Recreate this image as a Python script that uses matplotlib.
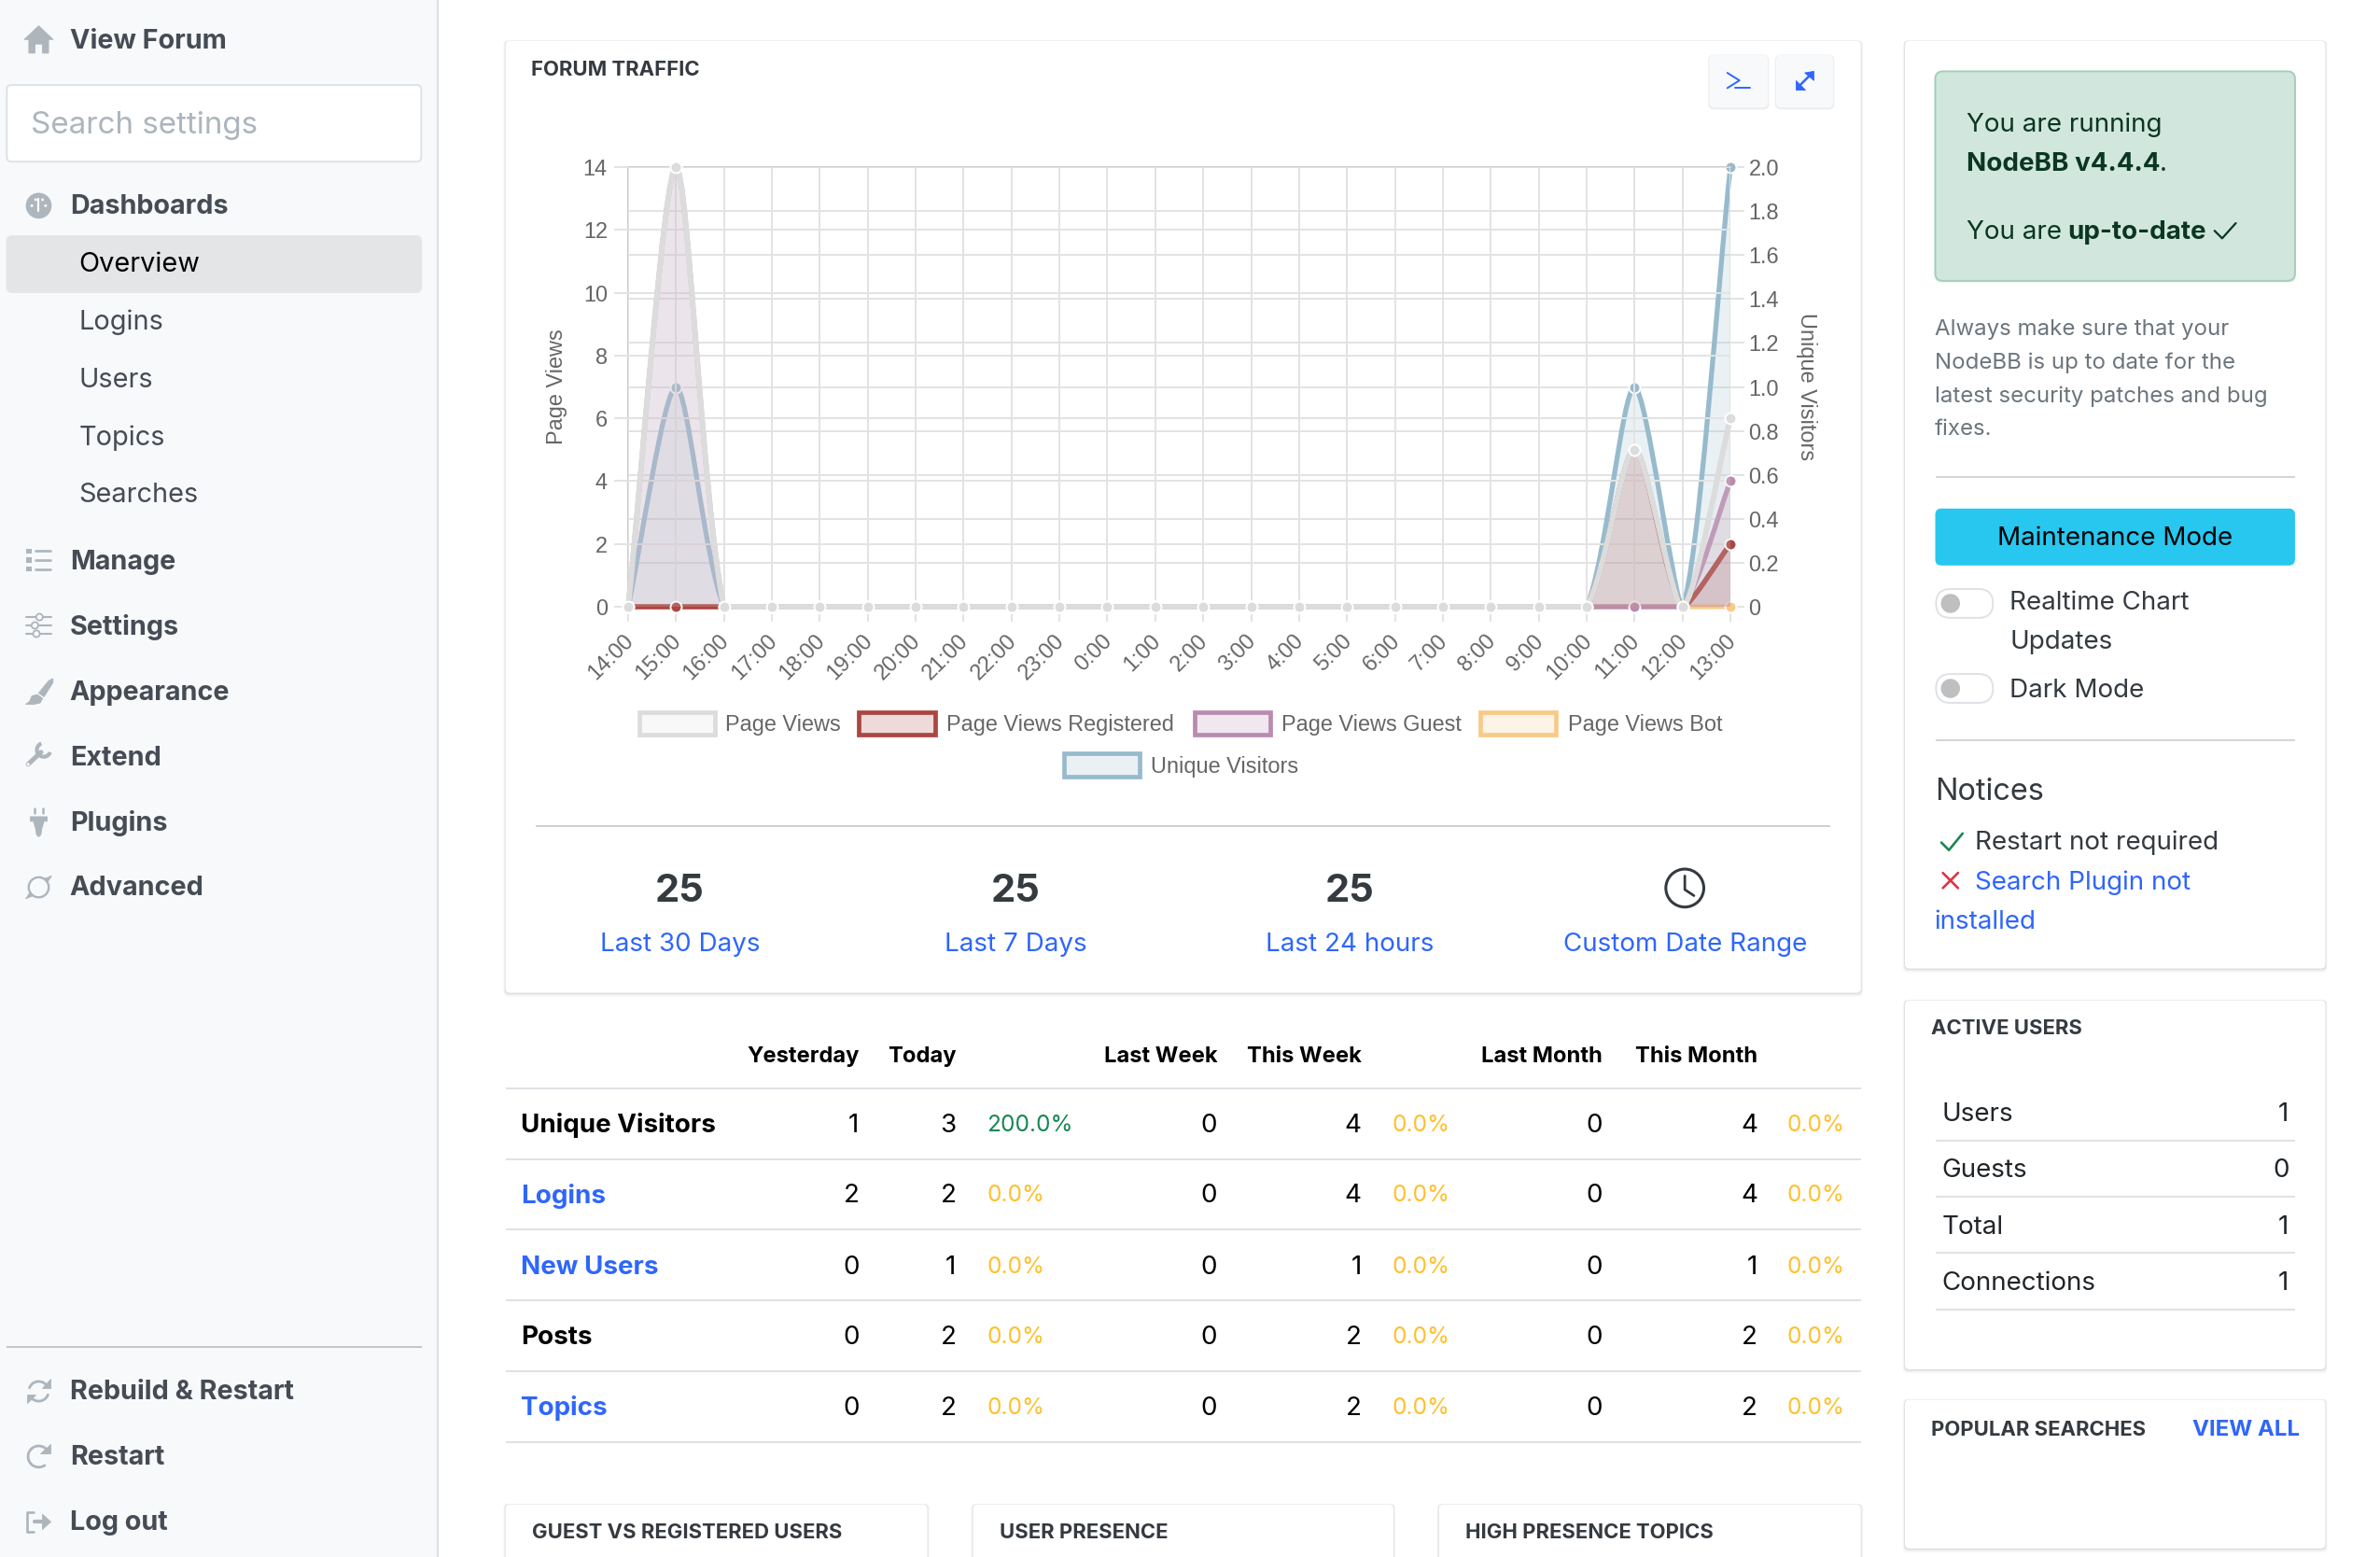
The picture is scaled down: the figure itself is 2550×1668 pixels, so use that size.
"""
Forum admin dashboard with the traffic chart, rebuilt in matplotlib.
Layout coordinates below are in reference units (2550 px / 1568).
"""

import matplotlib

matplotlib.use("Agg")
import matplotlib.pyplot as plt
from matplotlib.patches import Arc, Circle, FancyBboxPatch, PathPatch, Polygon, Rectangle
from matplotlib.path import Path
from matplotlib.transforms import ScaledTranslation

W, H = 2550, 1668
S = W / 1568.0

hours = ["14:00", "15:00", "16:00", "17:00", "18:00", "19:00", "20:00", "21:00", "22:00", "23:00", "0:00", "1:00",
         "2:00", "3:00", "4:00", "5:00", "6:00", "7:00", "8:00", "9:00", "10:00", "11:00", "12:00", "13:00"]
page_views = [0, 14, 0, 0, 0, 0, 0, 0, 0, 0, 0, 0, 0, 0, 0, 0, 0, 0, 0, 0, 0, 5, 0, 6]
page_views_registered = [0, 0, 0, 0, 0, 0, 0, 0, 0, 0, 0, 0, 0, 0, 0, 0, 0, 0, 0, 0, 0, 5, 0, 2]
page_views_guest = [0, 14, 0, 0, 0, 0, 0, 0, 0, 0, 0, 0, 0, 0, 0, 0, 0, 0, 0, 0, 0, 0, 0, 4]
page_views_bot = [0, 0, 0, 0, 0, 0, 0, 0, 0, 0, 0, 0, 0, 0, 0, 0, 0, 0, 0, 0, 0, 0, 0, 0]
unique_visitors = [0, 1, 0, 0, 0, 0, 0, 0, 0, 0, 0, 0, 0, 0, 0, 0, 0, 0, 0, 0, 0, 1, 0, 2]

left_ticks = [0, 2, 4, 6, 8, 10, 12, 14]
right_ticks = [0, 0.2, 0.4, 0.6, 0.8, 1.0, 1.2, 1.4, 1.6, 1.8, 2.0]
right_labels = ["0", "0.2", "0.4", "0.6", "0.8", "1.0", "1.2", "1.4", "1.6", "1.8", "2.0"]

GRAY, RED, PINK, BOT, BLUE = "#dcdcdc", "#ab4642", "#ba8baf", "#f7ca88", "#97bbcd"

table_names = ["Unique Visitors", "Logins", "New Users", "Posts", "Topics"]
table_links = [False, True, True, False, True]
yesterday = [1, 2, 0, 0, 0]
today = [3, 2, 1, 2, 2]
day_pct = ["200.0%", "0.0%", "0.0%", "0.0%", "0.0%"]
last_week = [0, 0, 0, 0, 0]
this_week = [4, 4, 1, 2, 2]
last_month = [0, 0, 0, 0, 0]
this_month = [4, 4, 1, 2, 2]

stat_values = ["25", "25", "25"]
stat_labels = ["Last 30 Days", "Last 7 Days", "Last 24 hours", "Custom Date Range"]

active_names = ["Users", "Guests", "Total", "Connections"]
active_counts = [1, 0, 1, 1]

LINK = "#2f66fb"
INK = "#212529"
SIDE_TXT = "#454c55"
SIDE_ICON = "#adb5bd"
SANS = "Inter"
SIDE = "Inter"
CHART = "Liberation Sans"
BODY = 20
HEAD = 15.9

fig = plt.figure(figsize=(W / 100, H / 100), dpi=100, facecolor="white")
ui = fig.add_axes([0, 0, 1, 1], zorder=1)
ui.set_xlim(0, W / S)
ui.set_ylim(H / S, 0)
ui.axis("off")


def txt(x, y, s, size=BODY, color=INK, weight="normal", ha="left", family=SANS, **kw):
    return ui.text(x, y - 0.5, s, fontsize=size, color=color, weight=weight, ha=ha, va="center_baseline", family=family, **kw)


def rbox(x0, y0, x1, y1, r=3, fc="white", ec="none", lw=0, z=1):
    p = FancyBboxPatch((x0 + r, y0 + r), x1 - x0 - 2 * r, y1 - y0 - 2 * r, boxstyle=f"round,pad={r},rounding_size={r}",
                       fc=fc, ec=ec, lw=lw, zorder=z)
    ui.add_patch(p)
    return p


def hline(x0, x1, y, color="#cfd1d4", lw=1.3, z=2):
    ui.plot([x0, x1], [y, y], color=color, lw=lw, solid_capstyle="butt", zorder=z)


def card(x0, y0, x1, y1):
    # soft shadow, then the white card
    for off, alpha in ((5, 0.012), (4, 0.018), (3, 0.025), (2, 0.035), (1, 0.05)):
        rbox(x0 - off * 0.3, y0 - off * 0.1, x1 + off * 0.3, y1 + off * 0.6, r=3, fc=(0, 0, 0, alpha), z=1)
    rbox(x0, y0, x1, y1, r=3, fc="white", z=1.1)


def stroke(xs, ys, color=SIDE_ICON, lw=2.2, z=3):
    ui.plot(xs, ys, color=color, lw=lw, solid_capstyle="round", solid_joinstyle="round", zorder=z)


def fill(pts, color=SIDE_ICON, z=3):
    ui.add_patch(Polygon(pts, fc=color, ec=color, lw=0.6, joinstyle="round", zorder=z))


# ---- sidebar
ui.add_patch(Rectangle((0, 0), 288, H / S, fc="#f8f9fa", ec="none", zorder=0.5))
ui.plot([288.5, 288.5], [0, H / S], color="#dee2e6", lw=1.6, zorder=0.6)

rbox(4.5, 56, 277.5, 106.5, r=3, fc="white", ec="#dee2e6", lw=1.4)
txt(20, 81, "Search settings", size=23.9, color="#adb5bd", family=SIDE)
rbox(4, 155, 278, 193, r=4, fc="#e4e5e7")

side_top = [("View Forum", 26), ("Dashboards", 135), ("Manage", 369), ("Settings", 412), ("Appearance", 455),
            ("Extend", 498), ("Plugins", 541), ("Advanced", 584), ("Rebuild & Restart", 916), ("Restart", 959),
            ("Log out", 1002)]
for name, y in side_top:
    txt(46, y, name, size=20.7, color=SIDE_TXT, weight="bold", family=SIDE)
side_sub = [("Overview", 173, "black"), ("Logins", 211, SIDE_TXT), ("Users", 249, SIDE_TXT), ("Topics", 287, SIDE_TXT),
            ("Searches", 325, SIDE_TXT)]
for name, y, col in side_sub:
    txt(52, y, name, size=20.8, color=col, family=SIDE)

# sidebar icons
fill([(16, 26), (25.5, 17), (35, 26), (32, 26), (32, 35), (28, 35), (28, 29), (23, 29), (23, 35), (19, 35), (19, 26)])
ui.add_patch(Circle((25.5, 135.5), 8.5, fc=SIDE_ICON, zorder=3))
for dx, dy in ((-4.5, 0), (4.5, 0), (-2, -4), (2.5, -4)):
    ui.add_patch(Circle((25.5 + dx, 135.5 + dy), 0.9, fc="white", zorder=4))
stroke([25.5, 25.5], [131, 139], color="white", lw=1.6, z=4)
for dy in (-6, 0, 6):
    ui.add_patch(Rectangle((17.5, 369 + dy - 1.6), 3.2, 3.2, fc=SIDE_ICON, zorder=3))
    stroke([23.5, 33.5], [369 + dy, 369 + dy], lw=1.9)
for dy, cx in ((-5.5, 28), (0, 25), (5.5, 26)):
    stroke([17.5, 34], [412 + dy, 412 + dy], lw=1.5)
    ui.add_patch(Circle((cx - 2, 412 + dy), 2.2, fc="#f8f9fa", ec=SIDE_ICON, lw=1.3, zorder=4))
# brush
fill([(34.8, 447), (35, 449.5), (29, 459), (25.5, 456.5), (32, 448.5)])
fill([(24.5, 457.5), (28, 460), (26.5, 463), (22, 464), (17, 464), (19.5, 462), (21, 458.5)])
# wrench
stroke([18.5, 27], [503.5, 495.5], lw=3.6)
ui.add_patch(Arc((28.8, 494), 9, 9, theta1=20, theta2=250, ec=SIDE_ICON, lw=3, zorder=3))
ui.add_patch(Circle((18.5, 503.5), 1, fc="#f8f9fa", zorder=4))
# plug
fill([(20, 538), (31, 538), (31, 541), (29, 541), (27.5, 546), (27, 549.5), (26, 551), (25, 551), (24, 549.5), (23.5, 546),
      (22, 541), (20, 541)])
stroke([23, 23], [532.5, 535.5], lw=1.8)
stroke([28, 28], [532.5, 535.5], lw=1.8)
# advanced
ui.add_patch(Circle((25.5, 584.5), 6.6, fc="none", ec=SIDE_ICON, lw=1.7, zorder=3))
fill([(29, 579), (34, 577), (31, 581.5)])
fill([(22, 590), (17, 592), (20, 587.5)])
# rebuild
ui.add_patch(Arc((25.5, 916.5), 13, 13, theta1=195, theta2=330, ec=SIDE_ICON, lw=2, zorder=3))
ui.add_patch(Arc((25.5, 916.5), 13, 13, theta1=15, theta2=150, ec=SIDE_ICON, lw=2, zorder=3))
fill([(33, 908.5), (33, 914.5), (27.5, 914.5)])
fill([(18, 924.5), (18, 918.5), (23.5, 918.5)])
# restart
ui.add_patch(Arc((25.5, 959.5), 14, 14, theta1=50, theta2=325, ec=SIDE_ICON, lw=2, zorder=3))
fill([(33, 951), (33, 957.5), (26.5, 957.5)])
# log out
stroke([22, 18, 18, 22], [996, 996, 1009, 1009], lw=1.9)
stroke([23, 28], [1002.5, 1002.5], lw=3)
fill([(28, 997.5), (33.5, 1002.5), (28, 1007.5)])

hline(4, 278, 887, color="#bfc2c6")

# ---- forum traffic card
card(333, 27, 1226, 654)
txt(350, 45.5, "FORUM TRAFFIC", size=HEAD, weight="bold", color="#343a40")
for x0, x1 in ((1126, 1165), (1170, 1208)):
    for off, alpha in ((1.5, 0.03), (0.8, 0.05)):
        rbox(x0 - off / 2, 36, x1 + off / 2, 71 + off, r=4, fc=(0, 0, 0, alpha), z=1.2)
    rbox(x0, 36, x1, 71, r=4, fc="#f8f9fa", z=1.3)
stroke([1138, 1146, 1138], [48, 53, 58], color=LINK, lw=1.4)
stroke([1143, 1153], [58, 58], color=LINK, lw=1.4)
stroke([1185, 1193], [57, 49], color=LINK, lw=1.8)
fill([(1189, 48), (1195, 47), (1195, 53)], color=LINK)
fill([(1183, 53), (1183, 59), (1189, 59)], color=LINK)

# legend boxes of the chart
legend_rows = [(421, 476.5, "Page Views", GRAY, 478), (566, 476.5, "Page Views Registered", RED, 623.5),
               (787, 476.5, "Page Views Guest", PINK, 844), (975, 476.5, "Page Views Bot", BOT, 1033),
               (701, 504, "Unique Visitors", BLUE, 758)]
for x0, yc, name, col, tx in legend_rows:
    ui.add_patch(Rectangle((x0, yc - 7.5), 50, 15, fc=matplotlib.colors.to_rgba(col, 0.2), ec=col, lw=3.4, zorder=3))
    txt(tx, yc, name, size=16.9, color="#666666", family=CHART)

# chart
PLOT_L, PLOT_R = 673, 1854
rect = [PLOT_L / W, 1 - 650 / H, (PLOT_R - PLOT_L) / W, (650 - 179) / H]
ax = fig.add_axes(rect, zorder=3)
ax.patch.set_visible(False)
ax2 = ax.twinx()
ax2.set_zorder(2)
ax.set_zorder(3)
ax.set_xlim(0, len(hours) - 1)
ax.set_ylim(0, 14)
ax2.set_ylim(0, 2)
ax2.patch.set_visible(False)

GRID = "#e3e3e3"
LABEL = 16.9
ax.set_xticks(range(len(hours)))
ax.set_xticklabels(hours, rotation=45, ha="right", rotation_mode="anchor", fontsize=LABEL, color="#666666", family=CHART)
ax.set_yticks(left_ticks)
ax.set_yticklabels([str(v) for v in left_ticks], fontsize=LABEL, color="#666666", family=CHART)
ax2.set_yticks(right_ticks)
ax2.set_yticklabels(right_labels, fontsize=LABEL, color="#666666", family=CHART)
ax.tick_params(axis="x", length=11.5, width=1.4, color=GRID, pad=5)
ax.tick_params(axis="y", length=11, width=1.4, color=GRID, pad=5)
ax2.tick_params(axis="y", length=11, width=1.4, color=GRID, pad=3)
# tick_params resets label transforms, so nudge after it
shift = ScaledTranslation(-6.5 / 100, -2 / 100, fig.dpi_scale_trans)
for lab in ax.get_xticklabels():
    lab.set_transform(lab.get_transform() + shift)
ax.grid(True, color=GRID, lw=1.4)
ax2.grid(True, axis="y", color=GRID, lw=1.4)
ax.set_axisbelow(False)
ax2.set_axisbelow(True)
for name, sp in ax.spines.items():
    sp.set_visible(name in ("top", "left"))
    sp.set_color("#cccccc")
    sp.set_linewidth(1.4)
for sp in ax2.spines.values():
    sp.set_visible(False)
ax.set_ylabel("Page Views", fontsize=LABEL, color="#666666", family=CHART)
ax2.set_ylabel("Unique Visitors", fontsize=LABEL, color="#666666", family=CHART, rotation=270, va="bottom")
ax.yaxis.set_label_coords((374 * S - PLOT_L) / (PLOT_R - PLOT_L), 0.5)
ax2.yaxis.set_label_coords((1183 * S - PLOT_L) / (PLOT_R - PLOT_L), 0.5)


def spline_path(a, vals, ymax, tension=0.25):
    # same bezier construction as the browser chart, control points from pixel distances
    n = len(vals)
    pts = [(float(i), float(v)) for i, v in enumerate(vals)]
    disp = a.transData.transform(pts)
    prev_cp, next_cp = [], []
    for i in range(n):
        cur = pts[i]
        p = pts[max(i - 1, 0)]
        q = pts[min(i + 1, n - 1)]
        d1 = ((disp[i] - disp[max(i - 1, 0)]) ** 2).sum() ** 0.5
        d2 = ((disp[min(i + 1, n - 1)] - disp[i]) ** 2).sum() ** 0.5
        s1 = d1 / (d1 + d2)
        s2 = d2 / (d1 + d2)
        dx, dy = q[0] - p[0], q[1] - p[1]
        prev_cp.append((cur[0] - tension * s1 * dx, min(max(cur[1] - tension * s1 * dy, 0), ymax)))
        next_cp.append((cur[0] + tension * s2 * dx, min(max(cur[1] + tension * s2 * dy, 0), ymax)))
    verts = [pts[0]]
    codes = [Path.MOVETO]
    for i in range(1, n):
        verts += [next_cp[i - 1], prev_cp[i], pts[i]]
        codes += [Path.CURVE4] * 3
    return verts, codes


def draw_series(a, vals, col, ymax, z, lw):
    verts, codes = spline_path(a, vals, ymax)
    area = verts + [(len(vals) - 1, 0), (0, 0), verts[0]]
    area_codes = codes + [Path.LINETO, Path.LINETO, Path.CLOSEPOLY]
    a.add_patch(PathPatch(Path(area, area_codes), fc=matplotlib.colors.to_rgba(col, 0.2), ec="none", zorder=z))
    a.add_patch(PathPatch(Path(verts, codes), fc="none", ec=col, lw=lw, capstyle="butt", joinstyle="round", zorder=z + 0.1,
                          clip_on=False))
    a.plot(range(len(vals)), vals, "o", ms=8.6, mfc=col, mec="white", mew=1.4, clip_on=False, zorder=z + 0.2)


fig.canvas.draw()
# upper lines a touch wider, otherwise the lower ones show through their soft edges
draw_series(ax2, unique_visitors, BLUE, 2, 3, 3.8)
draw_series(ax, page_views_bot, BOT, 14, 3, 3.6)
draw_series(ax, page_views_guest, PINK, 14, 4, 3.8)
draw_series(ax, page_views_registered, RED, 14, 5, 4.0)
draw_series(ax, page_views, GRAY, 14, 6, 4.3)

# totals under the chart
hline(353, 1206, 544, color="#c9cbce")
for x, v in zip((448, 669, 889), stat_values):
    txt(x, 585, v, size=30, weight="bold", ha="center", color="#343a40")
for x, name in zip((448, 669, 889, 1110), stat_labels):
    txt(x, 621, name, color=LINK, ha="center")
ui.add_patch(Circle((1110, 585), 12.5, fc="none", ec="#343a40", lw=2.2, zorder=3))
stroke([1110, 1110, 1116], [577, 586, 590], color="#343a40", lw=2)

# ---- stats table
for x, name in ((566, "Yesterday"), (630, "Today"), (802, "Last Week"), (897, "This Week"), (1056, "Last Month"),
                (1158, "This Month")):
    txt(x, 695, name, size=17.1, weight="bold", color="black", ha="right")
row_y = [740, 786.5, 833.5, 880, 926.5]
for y in [717, 763.5, 810, 856.5, 903.5, 950]:
    hline(333, 1226, y, color="#dee2e6", lw=1.4)
for i, name in enumerate(table_names):
    y = row_y[i]
    txt(343, y, name, weight="bold", color=LINK if table_links[i] else "black")
    txt(566, y, str(yesterday[i]), ha="right", color="black")
    txt(630, y, str(today[i]), ha="right", color="black")
    txt(650, y, day_pct[i], size=17.6, color="#198754" if i == 0 else "#ffc02e")
    txt(802, y, str(last_week[i]), ha="right", color="black")
    txt(897, y, str(this_week[i]), ha="right", color="black")
    txt(917, y, "0.0%", size=17.6, color="#ffc02e")
    txt(1056, y, str(last_month[i]), ha="right", color="black")
    txt(1158, y, str(this_month[i]), ha="right", color="black")
    txt(1177, y, "0.0%", size=17.6, color="#ffc02e")

# ---- bottom cards
for x0, x1, name in ((333, 611, "GUEST VS REGISTERED USERS"), (641, 918, "USER PRESENCE"), (948, 1226, "HIGH PRESENCE TOPICS")):
    card(x0, 991, x1, 1040)
    txt(x0 + 17.5, 1009, name, size=HEAD, weight="bold", color="#343a40")

# ---- right column
card(1255, 27, 1532, 638)
for off, alpha in ((1.5, 0.04), (0.8, 0.06)):
    rbox(1275 - off / 2, 47, 1512 + off / 2, 185 + off, r=5, fc=(0, 0, 0, alpha), z=1.2)
rbox(1275, 47, 1512, 185, r=5, fc="#d1e7dd", ec="#a3cfbb", lw=1.4, z=1.3)
GREEN_TXT = "#0a3622"
txt(1295.5, 81, "You are running", color=GREEN_TXT)
txt(1295.5, 107, "NodeBB v4.4.4", weight="bold", color=GREEN_TXT)
txt(1423, 107, ".", color=GREEN_TXT)
txt(1295.5, 152, "You are", color=GREEN_TXT)
txt(1362, 152, "up-to-date", weight="bold", color=GREEN_TXT)
stroke([1459, 1464, 1473], [152, 157, 147], color=GREEN_TXT, lw=1.6)

para = ["Always make sure that your", "NodeBB is up to date for the", "latest security patches and bug", "fixes."]
for y, line in zip((216, 238, 260, 282), para):
    txt(1274.5, y, line, size=17.3, color="#6c757d")
hline(1275, 1512, 314)
rbox(1275, 335, 1512, 372.5, r=4, fc="#27c7ef", z=2)
txt(1393.5, 353.5, "Maintenance Mode", ha="center", color="black")
for yc in (397.5, 453.5):
    rbox(1275.5, yc - 9.5, 1313, yc + 9.5, r=9.5, fc="white", ec="#dee2e6", lw=1.4, z=2)
    ui.add_patch(Circle((1285, yc), 6.3, fc="#bfbfbf", zorder=3))
txt(1324, 396, "Realtime Chart", color="#343a40")
txt(1324, 422, "Updates", color="#343a40")
txt(1324, 453.5, "Dark Mode", color="#343a40")
hline(1275, 1512, 487.5)
txt(1274.5, 520, "Notices", size=23.4, color="#343a40")
stroke([1279, 1284, 1293], [555, 560, 549], color="#198754", lw=1.9)
txt(1301, 554, "Restart not required", color="#343a40")
stroke([1280, 1290], [575, 585], color="#dc3545", lw=1.9)
stroke([1280, 1290], [585, 575], color="#dc3545", lw=1.9)
txt(1301, 580, "Search Plugin not", color=LINK)
txt(1274.5, 606, "installed", color=LINK)

card(1255, 659, 1532, 902)
txt(1272, 677, "ACTIVE USERS", size=HEAD, weight="bold", color="#343a40")
for i, name in enumerate(active_names):
    y = 733 + i * 37
    txt(1279.5, y, name, color=INK)
    txt(1508, y, str(active_counts[i]), color=INK, ha="right")
    hline(1275, 1512, y + 18.5, color="#dee2e6", lw=1.4)

card(1255, 922, 1532, 1020)
txt(1272, 941, "POPULAR SEARCHES", size=HEAD, weight="bold", color="#343a40")
txt(1515, 941, "VIEW ALL", size=17.3, weight="bold", color=LINK, ha="right")

fig.savefig("out.png", dpi=100)
